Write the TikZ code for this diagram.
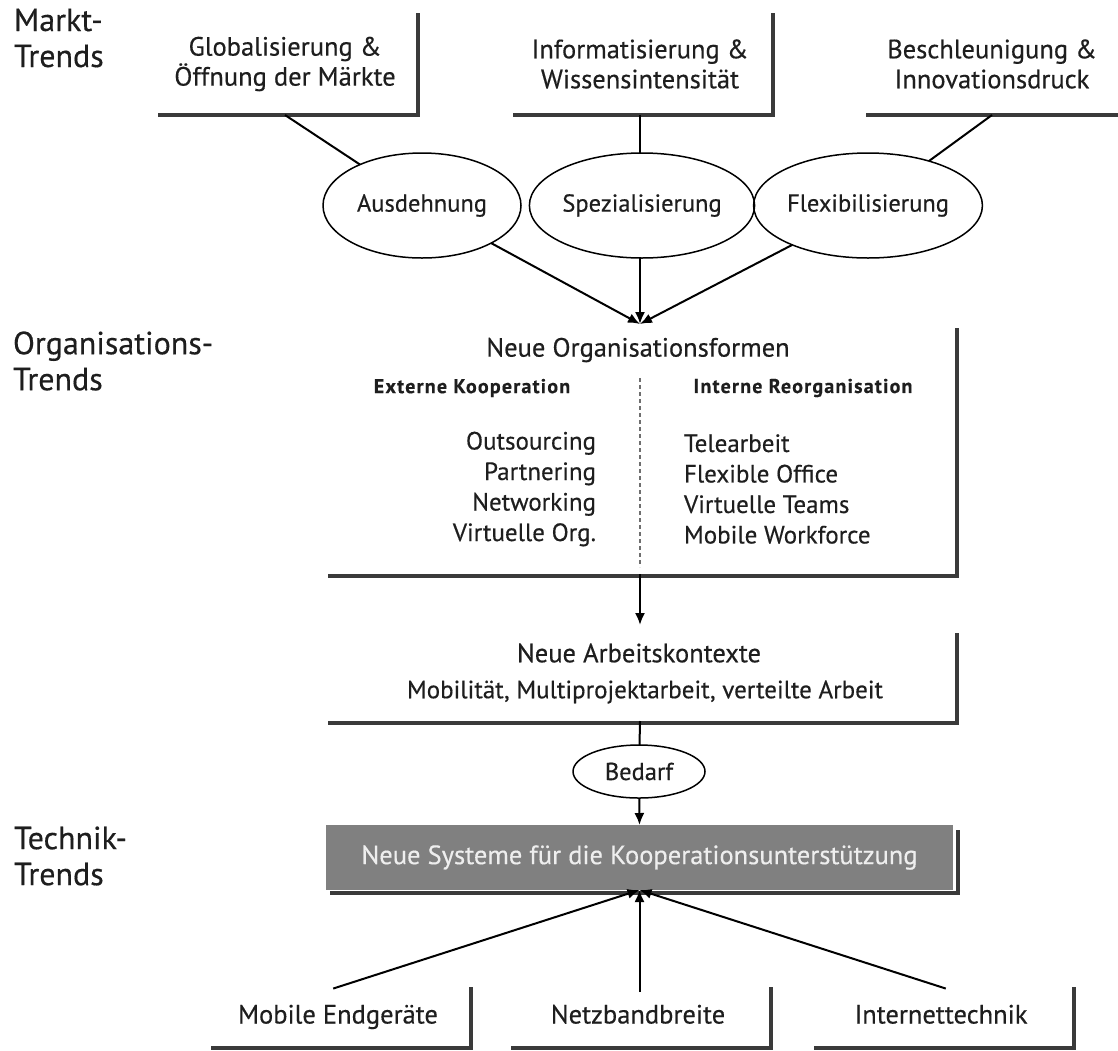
\documentclass[tikz,border=0pt]{standalone}
\usepackage{fontspec}
\setmainfont{PT Sans}[FakeBold=0.4]
\usetikzlibrary{arrows.meta,shapes.geometric,calc}

\definecolor{framegray}{RGB}{58,58,58}
\definecolor{sysgray}{RGB}{128,128,128}
\definecolor{systext}{RGB}{238,238,238}
\definecolor{divgray}{RGB}{110,110,110}
\definecolor{inkgray}{RGB}{30,30,30}

% L-shaped frame (bottom and right edge) drawn beside a box node
\newcommand\lframe[2]{%
  \draw[frame] ($(#1.south west)+(#2,0)$) -- ($(#1.south east)+(#2,0)$) -- ($(#1.north east)+(#2,0)$);}

\begin{document}
\begin{tikzpicture}[x=1pt,y=-1pt,
  every node/.style={inner sep=0pt, outer sep=0pt, text=inkgray},
  txt/.style={font=\fontsize{26.5}{30}\selectfont, align=center},
  desc/.style={font=\fontsize{25}{30.5}\selectfont},
  sub/.style={font=\fontsize{20}{25}\selectfont\bfseries\addfontfeatures{LetterSpace=6}},
  side/.style={font=\fontsize{32}{36}\selectfont, align=left, anchor=west},
  trendbox/.style={txt, minimum width=260pt, minimum height=102pt},
  techbox/.style={txt, minimum width=260pt, minimum height=61pt, text height=18pt, text depth=6pt},
  frame/.style={line width=3.2pt, draw=framegray, line join=miter},
  oval/.style={ellipse, draw, line width=1.5pt, font=\fontsize{24.5}{30}\selectfont,
               minimum width=198pt, minimum height=105pt},
  link/.style={line width=2pt, draw=black},
  arr/.style={link, -{Latex[length=12pt,width=10pt]}},
  divider/.style={line width=2.2pt, draw=divgray, dash pattern=on 4pt off 3pt},
]
\useasboundingbox (0,0) rectangle (1118,1050);

% side labels
\node[side] (lmarkt) at (14,38) {Markt-\\Trends};
\node[side] (lorg) at (13,361) {Organisations-\\Trends};
\node[side] (ltech) at (14,856) {Technik-\\Trends};

% market trends
\node[trendbox] (glob) at (285,64) {Globalisierung \&\\Öffnung der Märkte};
\node[trendbox] (info) at (640,64) {Informatisierung \&\\Wissensintensität};
\node[trendbox] (besch) at (992,64) {Beschleunigung \&\\Innovationsdruck};
\lframe{glob}{3}
\lframe{info}{3}
\lframe{besch}{4}

% consequences
\node[oval] (ausd) at (422,205.5) {Ausdehnung};
\node[oval] (spez) at (642,205.5) {Spezialisierung};
\node[oval] (flex) at (868,205.5) {Flexibilisierung};

\draw[link] (glob.south) -- (ausd);
\draw[link] (info.south) -- (info.south |- spez.north);
\draw[link] (besch.south) -- (flex);

% new organisation forms
\node[minimum width=630pt, minimum height=250pt] (org) at (640,449) {};
\draw[frame] ($(org.south west)+(3,2)$) -- ($(org.south east)+(2,2)$) -- ($(org.north east)+(2,4)$);

\draw[arr] (ausd) -- (org.north);
\draw[arr] (spez.south -| org.north) -- (org.north);
\draw[arr] (flex) -- (org.north);

\node[txt] (orgtitle) at (638,350) {Neue Organisationsformen};
\node[sub] (extk) at (472,388) {Externe Kooperation};
\node[sub] (intr) at (803,388) {Interne Reorganisation};
\node[desc, align=right, anchor=east] (extl) at (596,489) {Outsourcing\\Partnering\\Networking\\Virtuelle Org.};
\node[desc, align=left, anchor=west] (intl) at (684,489) {Telearbeit\\Flexible Office\\Virtuelle Teams\\Mobile Workforce};
\draw[divider] ($(org.north)+(0,54)$) -- ($(org.south)+(0,-7)$);

% new work contexts
\node[minimum width=630pt, minimum height=90pt] (ark) at (640,676) {};
\draw[frame] ($(ark.south west)+(3,2)$) -- ($(ark.south east)+(2,2)$) -- ($(ark.north east)+(2,2)$);
\draw[arr, shorten >=6pt] (org.south) -- (ark.north);
\node[txt] (arktitle) at (639,653) {Neue Arbeitskontexte};
\node[desc] (arkdesc) at (645,692) {Mobilität, Multiprojektarbeit, verteilte Arbeit};

% demand
\node[oval, minimum width=132pt, minimum height=53pt] (bedarf) at (639,771.5) {Bedarf};
\draw[link] (ark.south) -- (bedarf);

% new systems
\node[fill=sysgray, minimum width=627pt, minimum height=65pt, text=systext,
      font=\fontsize{26.5}{30}\selectfont] (sys) at (639.5,857.5) {Neue Systeme für die Kooperationsunterstützung};
\draw[frame] ($(sys.south west)+(4,3)$) -- ($(sys.south east)+(5,3)$) -- ($(sys.north east)+(5,5)$);
\draw[arr] (bedarf) -- (sys.north);

% technology trends
\node[techbox] (mob) at (338,1017.5) {Mobile Endgeräte};
\node[techbox] (netz) at (638,1017.5) {Netzbandbreite};
\node[techbox] (inet) at (941,1017.5) {Internettechnik};
\lframe{mob}{3}
\lframe{netz}{3}
\lframe{inet}{3}

\draw[arr, shorten <=-5pt] (mob.north) -- (sys.south);
\draw[arr, shorten <=-5pt] (netz.north -| sys.south) -- (sys.south);
\draw[arr, shorten <=-5pt] (inet.north) -- (sys.south);
\end{tikzpicture}
\end{document}
